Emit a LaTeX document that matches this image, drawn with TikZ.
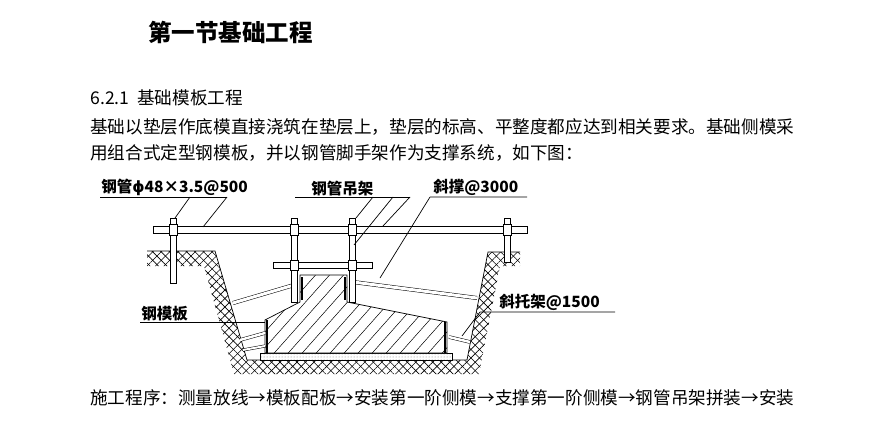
\documentclass[tikz,border=0pt]{standalone}
\usepackage{fontspec}
\setmainfont{Liberation Serif}
\newfontfamily\cjk{Noto Sans CJK SC}
\newfontfamily\djvfont{DejaVu Sans}
\usetikzlibrary{patterns,patterns.meta}
\begin{document}
\begin{tikzpicture}[x=1pt,y=-1pt,line width=0.7pt,
 txt/.style={anchor=west,inner sep=0,font=\cjk\fontsize{17.6}{20}\selectfont},
 lbl/.style={anchor=south west,inner sep=1pt,font=\cjk\bfseries\fontsize{15.5}{17}\selectfont},
 pipe/.style={draw,fill=white,line width=0.6pt}]
\useasboundingbox (0,0) rectangle (888,447);
\node[anchor=west,inner sep=0,font=\cjk\bfseries\fontsize{23.5}{26}\selectfont] (title) at (148,32) {第一节基础工程};
\node[txt] (h) at (90,98) {6.2.1\ \ 基础模板工程};
\node[txt] (l1) at (90,127) {基础以垫层作底模直接浇筑在垫层上，垫层的标高、平整度都应达到相关要求。基础侧模采};
\node[txt] (l2) at (90,153) {用组合式定型钢模板，并以钢管脚手架作为支撑系统，如下图：};
\node[txt] (l3) at (90,398) {施工程序：测量放线→模板配板→安装第一阶侧模→支撑第一阶侧模→钢管吊架拼装→安装};
% soil
\path[save path=\soil] (147,251)--(215,251)--(247,360)--(467,360)--(488,252)--(520,252)--(520,266)--(500,266)--(479,374)--(234,374)--(204,266)--(147,266)--cycle;
\fill[use path=\soil,pattern={Lines[angle=45,distance=6pt,line width=0.6pt]}];
\fill[use path=\soil,pattern={Lines[angle=-45,distance=6pt,line width=0.6pt]}];
\draw (147,251)--(215,251)--(247,360)--(467,360)--(488,252)--(520,252);
% cushion
\draw[fill=white] (260,353) rectangle (452,360);
\fill[pattern=dots,pattern color=black!50] (260,353) rectangle (452,360);
\draw (260,353) rectangle (452,360);
% foundation
\path[save path=\fnd] (265,353)--(265,320)--(300,302)--(300,275)--(347,275)--(347,302)--(447,322)--(447,353)--cycle;
\fill[white,use path=\fnd];
\begin{scope}
\clip[use path=\fnd];
\foreach \i in {0,14,...,280} \draw[line width=0.5pt] (240+\i,360)--(320+\i,270);
\end{scope}
\draw[use path=\fnd];
% formwork plates
\draw[line width=1.2pt] (267,320)--(267,353) (445,322)--(445,353) (302,277)--(302,300) (345,277)--(345,300);
% braces
\draw[double,double distance=3pt,line width=0.5pt] (233,303)--(294,285);
\draw[double,double distance=3pt,line width=0.5pt] (353,282)--(477,298);
\draw[double,double distance=2.5pt,line width=0.5pt] (240,340)--(265,333);
\draw[double,double distance=2.5pt,line width=0.5pt] (449,337)--(470,342);
\draw[double,double distance=2pt,line width=0.5pt] (243,350)--(265,346);
% posts
\foreach \x/\b in {173/283,294/302,352/302,507/262} \draw[pipe] (\x-3,218) rectangle (\x+3,\b);
\draw[pipe] (153,226) rectangle (527,233);
\draw[pipe] (273,262) rectangle (372,268);
\foreach \x in {173,294,352,507} \draw[pipe] (\x-4,224) rectangle (\x+4,235);
\foreach \x in {294,352} \draw[pipe] (\x-4,260) rectangle (\x+4,270);
% labels
\node[lbl] (a) at (100,197) {钢管{\djvfont\bfseries ϕ}48×3.5@500};
\draw (100,197)--(227,197);
\draw (227,197)--(203,227) (190,197)--(175,218);
\node[lbl] (b) at (310,197) {钢管吊架};
\draw (295,197)--(410,197);
\draw (373,197)--(356,218) (393,197)--(354,245) (410,197)--(383,226);
\node[lbl] (c) at (432,197) {斜撑@3000};
\draw (430,197)--(527,197) (430,197)--(380,278);
\node[lbl] (d) at (498,312) {斜托架@1500};
\draw (480,312)--(615,312) (480,312)--(462,336);
\node[lbl] (e) at (140,322) {钢模板};
\draw (140,322)--(265,322);
\end{tikzpicture}
\end{document}
